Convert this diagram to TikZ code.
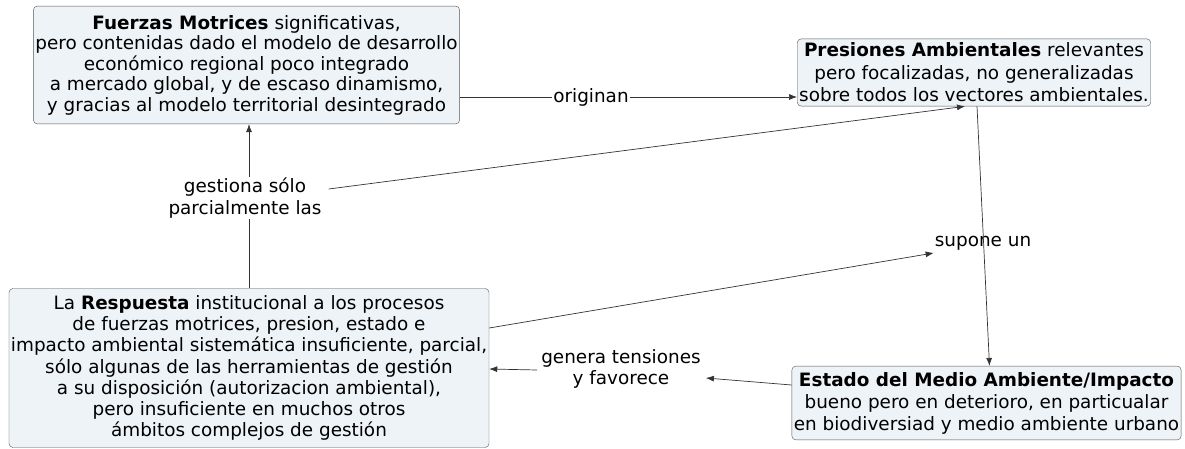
\documentclass[tikz,border=0pt]{standalone}
\usepackage{fontspec}
\setmainfont{DejaVu Sans}
\usetikzlibrary{calc,positioning,arrows.meta}
\definecolor{boxfill}{HTML}{EEF3F7}
\definecolor{boxline}{HTML}{555555}
\definecolor{linkcol}{HTML}{333333}
\tikzset{
    concept/.style={draw=boxline, fill=boxfill, rounded corners=4pt, align=center,
        inner xsep=2pt, inner ysep=6pt, font=\fontsize{18.4}{20.5}\selectfont},
    phrase/.style={align=center, inner sep=1pt, font=\fontsize{18.4}{21.5}\selectfont},
    link/.style={draw=linkcol, line width=0.7pt},
    arrow/.style={link, -{Latex[length=8pt,width=6pt]}}
}

\begin{document}
\begin{tikzpicture}[x=1pt, y=-1pt]
    \useasboundingbox (0,0) rectangle (1185,449);

    % Concepts
    \node[concept, inner ysep=9pt] (fuerzas) at (246.5,65) {\textbf{Fuerzas Motrices} significativas,\\
        pero contenidas dado el modelo de desarrollo\\
        económico regional poco integrado\\
        a mercado global, y de escaso dinamismo,\\
        y gracias al modelo territorial desintegrado};
    \node[concept, inner ysep=4pt, font=\fontsize{18.4}{22.5}\selectfont] (presiones) at (974,72.5) {\textbf{Presiones Ambientales} relevantes\\
        pero focalizadas, no generalizadas\\
        sobre todos los vectores ambientales.};
    \node[concept, inner ysep=7pt, font=\fontsize{18.4}{21.2}\selectfont] (respuesta) at (249,368) {La \textbf{Respuesta} institucional a los procesos\\
        de fuerzas motrices, presion, estado e\\
        impacto ambiental sistemática insuficiente, parcial,\\
        sólo algunas de las herramientas de gestión\\
        a su disposición (autorizacion ambiental),\\
        pero insuficiente en muchos otros\\
        ámbitos complejos de gestión};
    \node[concept, font=\fontsize{18.4}{22}\selectfont] (estado) at (986.5,403) {\textbf{Estado del Medio Ambiente/Impacto}\\
        bueno pero en deterioro, en particualar\\
        en biodiversiad y medio ambiente urbano};

    % Linking phrases
    \node[phrase] (originan) at (591,97) {originan};
    \node[phrase] (gestiona) at (245,198) {gestiona sólo\\parcialmente las};
    \node[phrase] (supone) at (983,243) {supone un};
    \node[phrase] (genera) at (621,369) {genera tensiones\\y favorece};

    % Links
    \draw[link] (fuerzas.east |- originan) -- (originan);
    \draw[arrow] (originan) -- (presiones.west |- originan);
    \draw[link] (respuesta.north) -- (respuesta.north |- gestiona.south);
    \draw[arrow] (respuesta.north |- gestiona.north) -- (respuesta.north |- fuerzas.south);
    \draw[arrow] ($(gestiona.east)+(6,-9)$) -- ($(presiones.south)+(-9,0)$);
    \draw[arrow] ($(presiones.south)+(3,0)$) -- ($(estado.north)+(3,0)$);
    \draw[arrow] ($(respuesta.east)+(0,-40)$) -- ($(supone.west)+(0,10)$);
    \draw[arrow] ($(estado.west)+(0,-18)$) -- ($(genera.east)+(4,9)$);
    \draw[arrow] ($(genera.west)+(-3,1)$) -- (genera.west -| respuesta.east);
\end{tikzpicture}
\end{document}
